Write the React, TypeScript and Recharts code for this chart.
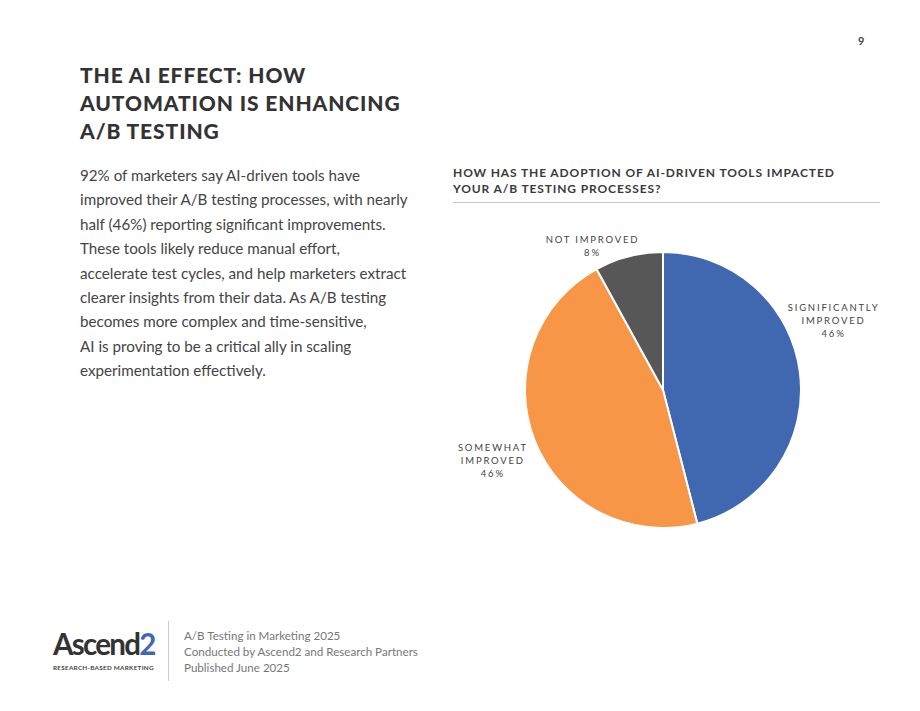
import { Cell, Pie, PieChart } from "recharts";

const CATEGORIES = ["SIGNIFICANTLY\nIMPROVED", "SOMEWHAT\nIMPROVED", "NOT IMPROVED"];
const VALUES = [46, 46, 8];
const COLORS = ["#3f68b0", "#f79646", "#575757"];

// small per-label nudges from the radial anchor point
const LABEL_NUDGE = [
  [-11, -45],
  [0, 5],
  [-25, 35],
];

const BODY_LINES = [
  "92% of marketers say AI-driven tools have",
  "improved their A/B testing processes, with nearly",
  "half (46%) reporting significant improvements.",
  "These tools likely reduce manual effort,",
  "accelerate test cycles, and help marketers extract",
  "clearer insights from their data. As A/B testing",
  "becomes more complex and time-sensitive,",
  "AI is proving to be a critical ally in scaling",
  "experimentation effectively.",
];

const FOOTER_LINES = [
  "A/B Testing in Marketing 2025",
  "Conducted by Ascend2 and Research Partners",
  "Published June 2025",
];

const data = CATEGORIES.map((name, i) => ({ name, value: VALUES[i] }));

const FONT = "Lato, 'Open Sans', sans-serif";
const RAD = Math.PI / 180;

function renderLabel(props: any) {
  const { cx, cy, midAngle, outerRadius, index, name, value } = props;
  const r = outerRadius + 45;
  const x = cx + r * Math.cos(-midAngle * RAD) + LABEL_NUDGE[index][0];
  const y = cy + r * Math.sin(-midAngle * RAD) + LABEL_NUDGE[index][1];
  const lines = [...String(name).split("\n"), `${value}%`];
  const lh = 13;
  const top = y - ((lines.length - 1) * lh) / 2;
  return (
    <text
      x={x}
      y={top}
      textAnchor="middle"
      dominantBaseline="middle"
      fill="#444"
      fontSize={9.5}
      letterSpacing={1.8}
      fontFamily={FONT}
    >
      {lines.map((l, i) => (
        <tspan key={i} x={x} dy={i === 0 ? 0 : lh}>
          {l}
        </tspan>
      ))}
    </text>
  );
}

export default function App() {
  return (
    <div
      style={{
        position: "absolute",
        left: 0,
        top: 0,
        width: 920,
        height: 711,
        background: "#fff",
        fontFamily: FONT,
        color: "#444",
        overflow: "hidden",
      }}
    >
      <div style={{ position: "absolute", left: 858, top: 34, fontSize: 11, fontWeight: 700, color: "#444" }}>9</div>

      <div
        style={{
          position: "absolute",
          left: 80,
          top: 61,
          fontSize: 21,
          fontWeight: 900,
          letterSpacing: 0.9,
          lineHeight: "28px",
          color: "#333",
        }}
      >
        THE AI EFFECT: HOW
        <br />
        AUTOMATION IS ENHANCING
        <br />
        A/B TESTING
      </div>

      <div style={{ position: "absolute", left: 80, top: 163, fontSize: 15.2, lineHeight: "24.4px", color: "#444" }}>
        {BODY_LINES.map((l, i) => (
          <div key={i} style={{ whiteSpace: "nowrap" }}>
            {l}
          </div>
        ))}
      </div>

      <div
        style={{
          position: "absolute",
          left: 453,
          top: 165,
          fontSize: 12,
          fontWeight: 700,
          letterSpacing: 0.88,
          lineHeight: "16px",
          color: "#3a3a3a",
        }}
      >
        HOW HAS THE ADOPTION OF AI-DRIVEN TOOLS IMPACTED
        <br />
        YOUR A/B TESTING PROCESSES?
      </div>
      <div style={{ position: "absolute", left: 453, top: 202, width: 427, height: 1, background: "#c8c8c8" }} />

      <div style={{ position: "absolute", left: 440, top: 170 }}>
        <PieChart width={460} height={430}>
          <Pie
            data={data}
            dataKey="value"
            nameKey="name"
            cx={218}
            cy={215}
            outerRadius={138}
            startAngle={90}
            endAngle={-270}
            stroke="#fff"
            strokeWidth={2}
            label={renderLabel}
            labelLine={false}
            isAnimationActive={false}
          >
            {data.map((d, i) => (
              <Cell key={d.name} fill={COLORS[i]} />
            ))}
          </Pie>
        </PieChart>
      </div>

      <div
        style={{
          position: "absolute",
          left: 53,
          top: 626,
          fontFamily: FONT,
          fontWeight: 700,
          fontSize: 29.5,
          letterSpacing: -1.7,
          lineHeight: "35px",
          color: "#333",
          whiteSpace: "nowrap",
        }}
      >
        Ascend<span style={{ color: "#3f68b0" }}>2</span>
      </div>
      <div
        style={{
          position: "absolute",
          left: 53,
          top: 664,
          fontSize: 6.3,
          lineHeight: "7px",
          fontWeight: 700,
          letterSpacing: 0.3,
          color: "#444",
          whiteSpace: "nowrap",
        }}
      >
        RESEARCH-BASED MARKETING
      </div>
      <div style={{ position: "absolute", left: 168, top: 621, width: 1, height: 60, background: "#ccc" }} />
      <div style={{ position: "absolute", left: 184, top: 628, fontSize: 11.6, lineHeight: "16px", color: "#777" }}>
        {FOOTER_LINES.map((l, i) => (
          <div key={i}>{l}</div>
        ))}
      </div>
    </div>
  );
}
